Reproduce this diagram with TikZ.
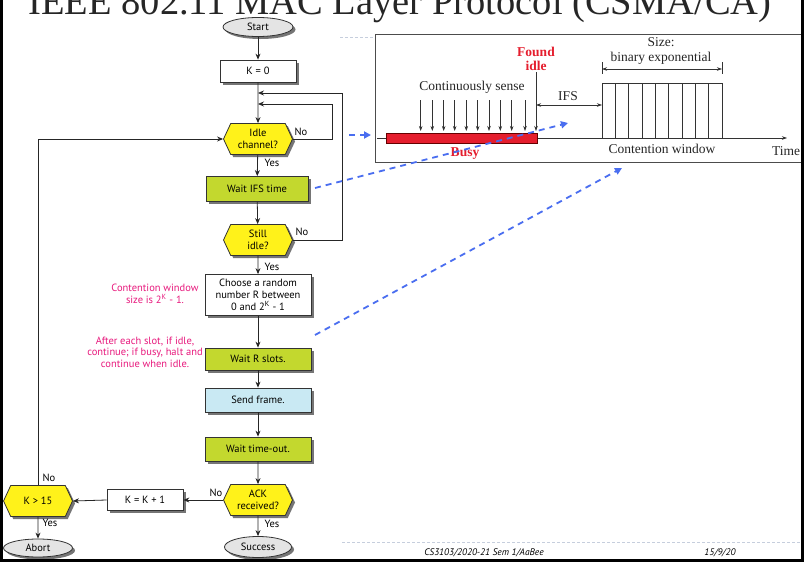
\documentclass[tikz,border=0pt]{standalone}
\usepackage{fontspec}
\setmainfont{Liberation Serif}
\newfontfamily\flowfont{PT Sans}
\usetikzlibrary{shapes.symbols,shapes.geometric,arrows.meta,shadows}
\definecolor{hexyellow}{HTML}{FFF21A}
\definecolor{boxgreen}{HTML}{C3D82E}
\definecolor{boxblue}{HTML}{C9E9F3}
\definecolor{ovalgray}{HTML}{E4E4E4}
\definecolor{labelpink}{HTML}{E8197D}
\definecolor{busyred}{HTML}{E51E2E}
\definecolor{linkblue}{HTML}{4A6EF0}
\definecolor{guidegray}{HTML}{C6CEDD}
\tikzset{
 sh/.style={drop shadow={shadow xshift=2.5pt,shadow yshift=-2.5pt,fill=black!60,opacity=0.9}},
 ff/.style={font=\flowfont\fontsize{10.5}{12.5}\selectfont},
 procbox/.style={ff,draw=black!80,line width=0.8pt,fill=white,inner sep=0pt,align=center,sh},
 greenbox/.style={procbox,fill=boxgreen},
 bluebox/.style={procbox,fill=boxblue},
 decision/.style={ff,shape=signal,signal to=east and west,signal pointer angle=130,draw=black!80,line width=0.8pt,fill=hexyellow,minimum width=69pt,minimum height=31pt,inner sep=0pt,align=center,sh},
 terminal/.style={ff,ellipse,draw=black!80,line width=0.8pt,fill=ovalgray,inner sep=0pt,sh},
 flow/.style={draw=black!85,line width=0.8pt,-{Stealth[length=6pt,width=5pt]}},
 lbl/.style={ff,inner sep=0pt},
 pinklbl/.style={ff,text=labelpink,align=center,inner sep=0pt},
 tim/.style={font=\fontsize{13.5}{15}\selectfont,inner sep=0pt,text=black!85},
 redlbl/.style={font=\bfseries\fontsize{13.5}{15}\selectfont,inner sep=0pt,text=busyred},
 tline/.style={draw=black!80,line width=0.6pt},
 tarr/.style={tline,-{Stealth[length=5pt,width=3.5pt]}},
 dblarr/.style={tline,{Stealth[length=5pt,width=3.5pt]}-{Stealth[length=5pt,width=3.5pt]}},
 blink/.style={draw=linkblue,line width=1.8pt,dash pattern=on 6pt off 5pt,-{Triangle[length=7pt,width=7pt]}},
 guide/.style={draw=guidegray,line width=0.8pt,dash pattern=on 3pt off 2pt},
}
\begin{document}
\begin{tikzpicture}[x=1pt,y=-1pt]
\useasboundingbox (0,0) rectangle (804,562);
\clip (0,0) rectangle (804,562);
\fill[white] (0,0) rectangle (804,562);

% title (cut off at the top)
\node[anchor=base,font=\fontsize{38.5}{40}\selectfont,text=black!85,inner sep=0pt] (title) at (400,14) {IEEE 802.11 MAC Layer Protocol (CSMA/CA)};

% guide lines
\draw[guide] (340,37) -- (375,37);
\draw[guide] (342,542) -- (804,542);

% ---------------- flowchart ----------------
\node[terminal,minimum width=70pt,minimum height=19pt] (start) at (258,27) {Start};
\node[procbox,minimum width=76pt,minimum height=22pt] (k0) at (258,71) {K = 0};
\node[decision] (idle) at (258,139) {Idle\\channel?};
\node[greenbox,minimum width=102pt,minimum height=25pt] (wifs) at (257,189) {Wait IFS time};
\node[decision] (still) at (258,240) {Still\\idle?};
\node[procbox,minimum width=106pt,minimum height=41pt,font=\flowfont\fontsize{10.5}{12}\selectfont] (choose) at (258,295) {Choose a random\\number R between\\0 and 2\textsuperscript{K} - 1};
\node[greenbox,minimum width=106pt,minimum height=22pt] (waitr) at (258,359) {Wait R slots.};
\node[bluebox,minimum width=106pt,minimum height=24pt] (send) at (258,400) {Send frame.};
\node[greenbox,minimum width=106pt,minimum height=24pt] (tout) at (258,449) {Wait time-out.};
\node[decision] (ack) at (258,500) {ACK\\received?};
\node[terminal,minimum width=67pt,minimum height=21pt] (success) at (258,547) {Success};
\node[procbox,minimum width=76pt,minimum height=21pt] (kk) at (145,500) {K = K + 1};
\node[decision] (k15) at (38,501) {K > 15};
\node[terminal,minimum width=69pt,minimum height=18pt] (abort) at (38,548) {Abort};

\coordinate (j1) at (258,104);
\coordinate (j2) at (258,93);
\coordinate (la) at (332,104);
\coordinate (lb) at (342,93);

\draw[flow] (start) -- (k0);
\draw[flow] (k0) -- (idle);
\draw[flow] (idle.east) -| (la) -- (j1);
\draw[flow] (still.east) -| (lb) -- (j2);
\draw[flow] (idle) -- (wifs);
\draw[flow] (wifs) -- (still);
\draw[flow] (still) -- (choose);
\draw[flow] (choose) -- (waitr);
\draw[flow] (waitr) -- (send);
\draw[flow] (send) -- (tout);
\draw[flow] (tout) -- (ack);
\draw[flow] (ack) -- (success);
\draw[flow] (ack.west) -- (kk.east);
\draw[flow] (kk.west) -- (k15.east);
\draw[flow] (k15) -- (abort);
\draw[flow] (k15.north) |- (idle.west);

\node[lbl] (n1) at (301,132) {No};
\node[lbl] (y1) at (272,163) {Yes};
\node[lbl] (n2) at (302,232) {No};
\node[lbl] (y2) at (272,267) {Yes};
\node[lbl] (n3) at (216,493) {No};
\node[lbl] (y3) at (272,524) {Yes};
\node[lbl] (n4) at (49,478) {No};
\node[lbl] (y4) at (50,523) {Yes};

\node[pinklbl] (pk1) at (155,294) {Contention window\\size is 2\textsuperscript{K} - 1.};
\node[pinklbl,font=\flowfont\fontsize{10.5}{11.5}\selectfont] (pk2) at (145,352) {After each slot, if idle,\\continue; if busy, halt and\\continue when idle.};

% ---------------- timing diagram ----------------
\draw[draw=black!70,line width=0.8pt] (375,34) rectangle (812,162);
\draw[tarr] (377,138) -- (787,138);
\node[tim,anchor=west] (time) at (772,151) {Time};
\draw[fill=busyred,draw=red!40!black,line width=0.6pt] (386,133) rectangle (537,143);
\node[redlbl] (busy) at (465,154) {Busy};
\foreach \xx in {420.7,432.3,443.7,454.7,466.3,477.7,489,500.3,511.7,525}
  \draw[tarr] (\xx,100) -- (\xx,131);
\draw[tarr] (536,72) -- (536,131);
\node[tim] (cs) at (472,87) {Continuously sense};
\node[redlbl,align=center,font=\bfseries\fontsize{13.5}{14.5}\selectfont] (found) at (536,59) {Found\\idle};
\draw[dblarr] (536,105) -- (602,105);
\node[tim] (ifs) at (568,96) {IFS};
\draw[tline] (602,138) -- (602,83) -- (722,83) -- (722,138);
\foreach \k in {1,...,8}
  \draw[tline] (602+13.333*\k,83) -- (602+13.333*\k,138);
\draw[tline] (602,62) -- (602,74);
\draw[tline] (722,62) -- (722,74);
\draw[dblarr] (602,69) -- (722,69);
\node[tim,align=center,font=\fontsize{13.5}{15}\selectfont] (size) at (661,51) {Size:\\binary exponential};
\node[tim] (cw) at (662,149) {Contention window};

% blue dashed pointers
\coordinate (b1s) at (349,135);
\coordinate (b1e) at (371,135);
\coordinate (b2s) at (315,188);
\coordinate (b2e) at (568,123);
\coordinate (b3s) at (315,335);
\coordinate (b3e) at (622,168);
\draw[blink] (b1s) -- (b1e);
\draw[blink] (b2s) -- (b2e);
\draw[blink] (b3s) -- (b3e);

% footer
\node[ff,font=\flowfont\itshape\fontsize{9.5}{11}\selectfont] (foot1) at (484,553) {CS3103/2020-21 Sem 1/AaBee};
\node[ff,font=\flowfont\itshape\fontsize{9.5}{11}\selectfont] (foot2) at (720,553) {15/9/20};

% frame
\draw[black,line width=3pt] (1.5,0) -- (1.5,560.5) -- (802.5,560.5) -- (802.5,0);
\end{tikzpicture}
\end{document}
